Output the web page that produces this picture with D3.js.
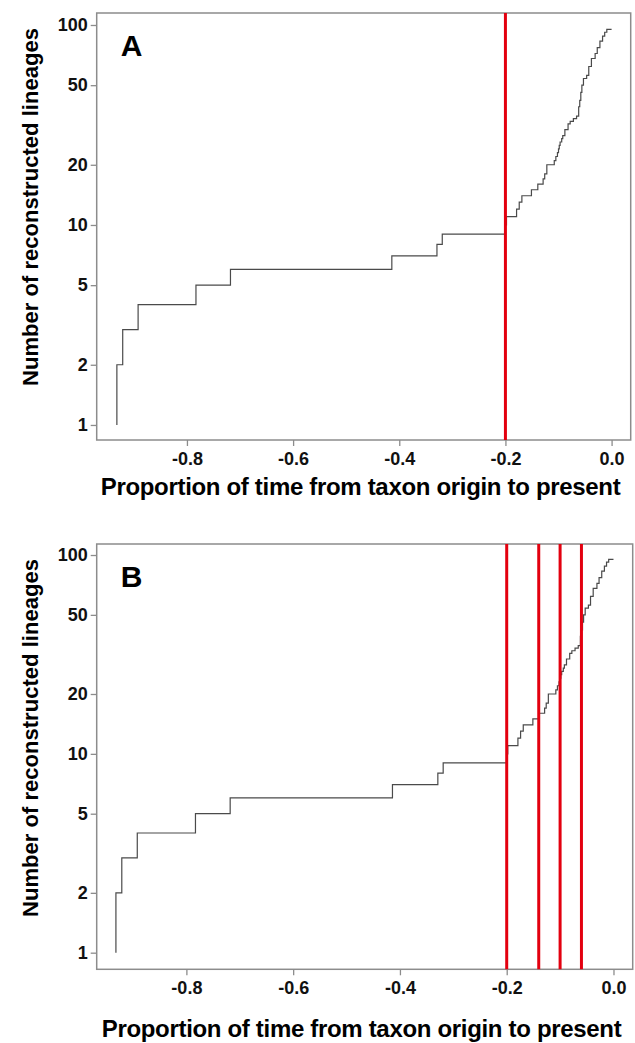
<!DOCTYPE html>
<html>
<head>
<meta charset="utf-8">
<script src="https://cdn.jsdelivr.net/npm/d3@7"></script>
<style>
  body { margin: 0; background: #fff; }
  svg text { font-family: "Liberation Sans", Arial, sans-serif; font-weight: bold; }
</style>
</head>
<body>
<div id="chart"></div>
<script>
// lineage-through-time steps: time at which the count changes, new count
const lttTime = [-0.932, -0.932, -0.921, -0.892, -0.783, -0.718, -0.414, -0.329, -0.319,
  -0.200, -0.198, -0.179, -0.174, -0.169, -0.151, -0.139, -0.129, -0.126, -0.122,
  -0.108, -0.105, -0.102, -0.100, -0.0986, -0.097, -0.094, -0.092, -0.088, -0.082,
  -0.078, -0.072, -0.066, -0.062, -0.060, -0.058, -0.056, -0.053, -0.047, -0.043,
  -0.038, -0.031, -0.027, -0.022, -0.017, -0.013, -0.009, 0.0];
const lttCount = [1, 2, 3, 4, 5, 6, 7, 8, 9,
  10, 11, 12, 13, 14, 15, 16, 17, 18, 20,
  21, 22, 23, 24, 25, 26, 27, 28, 30, 32,
  33, 34, 35, 39, 42, 46, 50, 54, 56, 62,
  68, 72, 77, 83, 88, 92, 95, 95];

const shiftsA = [-0.2];
const shiftsB = [-0.2, -0.14, -0.1, -0.06];

const xTicks = [-0.8, -0.6, -0.4, -0.2, 0.0];
const yTicks = [1, 2, 5, 10, 20, 50, 100];

const xTitle = "Proportion of time from taxon origin to present";
const yTitle = "Number of reconstructed lineages";

const data = lttTime.map((t, i) => ({ t: t, n: lttCount[i] }));

var w = 635;
var h = 1043;

var svg = d3.select("#chart")
  .append("svg")
  .attr("width", w)
  .attr("height", h);

// plain hyphen instead of unicode minus, like the original
var fmtX = (d) => d3.format(".1f")(d).replace("\u2212", "-");

function drawPanel(cfg) {
  var xScale = d3.scaleLinear()
    .domain(cfg.xDomain)
    .range([cfg.left, cfg.right]);

  var yScale = d3.scaleLog()
    .domain(cfg.yDomain)
    .range([cfg.bottom, cfg.top]);

  var g = svg.append("g");

  // frame
  g.append("rect")
    .attr("x", cfg.left)
    .attr("y", cfg.top)
    .attr("width", cfg.right - cfg.left)
    .attr("height", cfg.bottom - cfg.top)
    .attr("fill", "none")
    .attr("stroke", "#8c8c8c")
    .attr("stroke-width", 1.5);

  var xAxis = d3.axisBottom(xScale)
    .tickValues(xTicks)
    .tickFormat(fmtX)
    .tickSize(6)
    .tickPadding(6);

  var yAxis = d3.axisLeft(yScale)
    .tickValues(yTicks)
    .tickFormat(d3.format("d"))
    .tickSize(6)
    .tickPadding(3);

  var gx = g.append("g")
    .attr("transform", "translate(0," + cfg.bottom + ")")
    .call(xAxis);

  var gy = g.append("g")
    .attr("transform", "translate(" + cfg.left + ",0)")
    .call(yAxis);

  [gx, gy].forEach(function (a) {
    a.select(".domain").remove();
    a.selectAll(".tick line").attr("stroke", "#8c8c8c").attr("stroke-width", 1.3);
    a.selectAll(".tick text")
      .attr("fill", "#111")
      .style("font-size", "18px");
  });

  // the lineage curve
  var line = d3.line()
    .x((d) => xScale(d.t))
    .y((d) => yScale(d.n))
    .curve(d3.curveStepAfter);

  g.append("path")
    .datum(data)
    .attr("d", line)
    .attr("fill", "none")
    .attr("stroke", "#4a4a4a")
    .attr("stroke-width", 1.2);

  // rate shift lines
  g.selectAll(".shift")
    .data(cfg.shifts)
    .enter()
    .append("line")
    .attr("class", "shift")
    .attr("x1", (d) => xScale(d))
    .attr("x2", (d) => xScale(d))
    .attr("y1", cfg.top)
    .attr("y2", cfg.bottom)
    .attr("stroke", "#e3000f")
    .attr("stroke-width", 3);

  // panel letter
  g.append("text")
    .attr("x", cfg.left + 24)
    .attr("y", cfg.top + 43)
    .style("font-size", "30px")
    .attr("fill", "#000")
    .text(cfg.label);

  g.append("text")
    .attr("x", (cfg.left + cfg.right) / 2 - 3)
    .attr("y", cfg.bottom + cfg.titleGap)
    .attr("text-anchor", "middle")
    .style("font-size", "24px")
    .attr("textLength", 520)
    .attr("fill", "#000")
    .text(xTitle);

  g.append("text")
    .attr("transform", "translate(38," + (cfg.top + 194) + ") rotate(-90)")
    .attr("text-anchor", "middle")
    .style("font-size", "22px")
    .attr("textLength", 358)
    .attr("fill", "#000")
    .text(yTitle);
}

drawPanel({
  label: "A",
  left: 96.7, right: 630.7, top: 13, bottom: 440,
  xDomain: [-0.97, 0.036],
  yDomain: [0.841, 114.8],
  shifts: shiftsA,
  titleGap: 55
});

drawPanel({
  label: "B",
  left: 96.7, right: 632.7, top: 544, bottom: 969.3,
  xDomain: [-0.968, 0.036],
  yDomain: [0.825, 113.6],
  shifts: shiftsB,
  titleGap: 68
});
</script>
</body>
</html>
